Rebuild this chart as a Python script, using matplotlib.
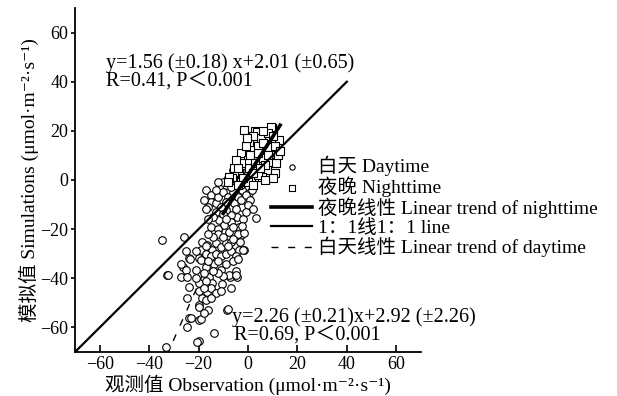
import matplotlib
matplotlib.use("Agg")
import matplotlib.pyplot as plt

plt.rcParams['font.family'] = ['Liberation Serif', 'Noto Sans CJK SC', 'DejaVu Serif']
plt.rcParams['axes.unicode_minus'] = True

# daytime observations vs simulations
day_x = [-17, -15, -15, -13, -11, -9, -6.9, -4.9, -2.4, 0.4, 1.6, -2.4, -4.5, -3.6, -2.8,
         -13, -11.8, -9.7, -7.7, -15, -6.9, -8.9, -5.7, -12, -10, -8, -6, -4, -3, -1,
         -7, -9, -11, -13, -16, -14, -10, -7, -5, -3, -1, 1, 2, -2, -4, -6, -8, -10, -12,
         -5, -3, 0, 1, -18, -17, -16, -12, -9, -6, -4, -2, 0, 2, -1, 3.2,
         -18.6, -16.6, -13, -11, -9, -6.9, -19, -14.6, -3.6, -1.6, -23.9, -19.9, -2, -3.2,
         -1.6, -2.4, -4.9, -7.3, -4.5, -10.5, -26.3, -25.1, -27.2, -23.9, -27.2, -25, -23.5,
         -32.8, -24.7, -19, -17, -13.8, -11, -9, -7.7, -4.9, -15.8, -14.6, -16.6, -18.6,
         -19.9, -23.9, -24.7, -19.9, -13.8, -19.9, -20.7, -33.2, -8.5, -21, -19.9, -34.9,
         -25.9, -32.4, -8.1, -23, -19, -24.7, -19.9,
         -17, -15, -13, -11, -9, -7, -5, -16, -12, -10, -12, -14, -18, -17, -15, -13, -17,
         -15, -20, -18, -21, -6, -8, -12, -14, -16, -10, -6, -4, -7, -11, -16, -18, -21, -17]
day_y = [-4, -6, -9, -9.4, -2.7, -2, 0.8, -1.2, -4, -5.4, -4, -11, -15, -19, -22.4,
         -13, -16.3, -18.4, -21, -19, -14.3, -12.2, -9.4, -7, -5, -7, -5, -7, -2, -1,
         -3, -9, -11, -4, -11, -15, -14, -17, -12, -8, -6, -1, 2, 3, 2, 4, 1, -1, -1,
         5, 6, 3, -8, -8, -12, -16, -20, -16, -19, -22, -16, -10, -12, -13, -15.4,
         -25.3, -26.5, -25.7, -27.3, -25.7, -25.3, -28.6, -28.6, -28.6, -28.6, -31.8, -31.8, -28.6, -25.3,
         -21.6, -18.8, -37, -39.6, -39.6, -42.4, -35.5, -36.7, -39.6, -43.7, -34.3, -29, -32,
         -38.8, -39.6, -32.7, -35.5, -34, -36.7, -34, -38.8, -38.8, -39.6, -42, -45.7, -48,
         -51, -56.3, -60, -57, -62.4, -65.7, -66, -68, -53, -36.7, -42, -24.5,
         -23.3, -38.8, -52.7, -56, -56.7, -48, -51.8,
         -30, -31, -30, -31, -30, -29, -31, -33, -33, -39, -38, -37, -38, -41, -44, -46, -49,
         -48, -45, -44, -40, -33, -27, -22, -23, -22, -23, -24, -32, -44, -45, -53, -54, -29, -27]

# nighttime observations vs simulations
night_x = [-1.6, 3, 9.7, 12.6, 3.6, 9.3, 7.7, 2.4, 0.4, -0.4, -2.8, 5.7, 10.5, 9.3, 11.4,
           7.7, 1.6, -1.6, -3.6, -5.7, -6.5, 3.6, 5.7, 1.2, -2.8, 3.2, 5.3, 8.5, 1.6, 0.4,
           -7.7, -5.7, -2.8, 2, 4, 6, 8, 11, 12, 13, 7, 4, 2, 0, -1, -3, -4, -5, 1, 3, 5,
           6, 8, 10, 0, -2, -8, -4, 2, 4, 6, -0.5, 11, 10, 7]
night_y = [20.4, 20, 21, 16.3, 19.6, 21.6, 17.6, 15.5, 15, 11, 10.2, 12.2, 11.4, 7.3, 6.9,
           4, 6.1, 6.1, 2.9, 3.3, 0.8, 4, 1.2, 0.8, -0.8, 9.4, 17.1, 13.5, 12.2, 4.9,
           1.2, 4.9, 11, 18, 14, 9, 10, 14, 10, 12, 6, 2, 3, 8, 14, 7, 5, 8, 10, 7, 5,
           15, 19, 18, -1, 1, -1, -2, -2, 11, 20, 17, 3, 1, 0]

# fitted lines
one_x = [-70, 40]
night_slope, night_icpt = 1.56, 2.01
night_fit_x = [-10, 13]
day_slope, day_icpt = 2.26, 2.92
day_fit_x = [-33, -2]

fig = plt.figure(figsize=(6.17, 3.96), dpi=100)
ax = fig.add_axes([75 / 617, 1 - 352 / 396, 346 / 617, 344 / 396])

ax.plot(day_fit_x, [day_slope * v + day_icpt for v in day_fit_x], color='black', lw=1.0,
        dashes=(5, 7), zorder=1, label='白天线性 Linear trend of daytime')
ax.scatter(day_x, day_y, s=30, marker='o', facecolor='white', edgecolor='black',
           linewidths=0.8, zorder=2, label='白天 Daytime')
ax.scatter(night_x, night_y, s=34, marker='s', facecolor='white', edgecolor='black',
           linewidths=0.8, zorder=3, label='夜晚 Nighttime')
ax.plot(one_x, one_x, color='black', lw=1.6, zorder=4, label='1：1线1：1 line')
ax.plot(night_fit_x, [night_slope * v + night_icpt for v in night_fit_x], color='black',
        lw=2.6, zorder=5, label='夜晚线性 Linear trend of nighttime')

ax.set_xlim(-70, 70)
ax.set_ylim(-70, 70)
ax.set_xticks([-60, -40, -20, 0, 20, 40, 60])
ax.set_yticks([-60, -40, -20, 0, 20, 40, 60])
ax.spines['top'].set_visible(False)
ax.spines['right'].set_visible(False)
ax.spines['left'].set_linewidth(1.3)
ax.spines['bottom'].set_linewidth(1.3)
ax.tick_params(axis='x', direction='in', length=5, width=1.2, labelsize=13, pad=3)
ax.tick_params(axis='y', direction='out', length=3, width=1.2, labelsize=13, pad=2)

ax.set_xlabel('观测值 Observation (μmol·m⁻²·s⁻¹)', fontsize=14, labelpad=1)
ax.set_ylabel('模拟值 Simulations (μmol·m⁻²·s⁻¹)', fontsize=14, labelpad=1)

ax.text(-57.6, 47.6, 'y=1.56 (±0.18) x+2.01 (±0.65)', fontsize=14.5, va='center', ha='left')
ax.text(-57.6, 40.4, 'R=0.41, P＜0.001', fontsize=14.5, va='center', ha='left')
ax.text(-6.5, -56, 'y=2.26 (±0.21)x+2.92 (±2.26)', fontsize=14.5, va='center', ha='left')
ax.text(-5.7, -63.3, 'R=0.69, P＜0.001', fontsize=14.5, va='center', ha='left')

h, l = ax.get_legend_handles_labels()
order = [1, 2, 4, 3, 0]
ax.legend([h[i] for i in order], [l[i] for i in order], loc='upper left',
          bbox_to_anchor=(0.545, 0.593), frameon=False, fontsize=14, handlelength=2.1,
          handletextpad=0.3, labelspacing=0.02, borderaxespad=0, markerscale=0.7)

fig.savefig('out.png', dpi=100)
